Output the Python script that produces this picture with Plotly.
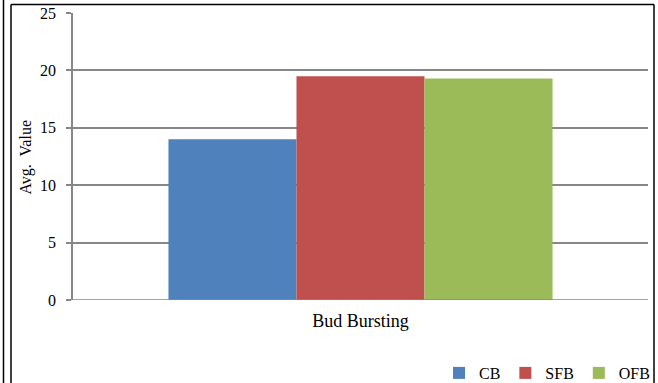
import plotly.graph_objects as go

category = ["Bud Bursting"]
series_names = ["CB", "SFB", "OFB"]
series_values = [[14.0], [19.5], [19.3]]
series_colors = ["#4F81BD", "#C0504D", "#9BBB59"]
y_ticks = [0, 5, 10, 15, 20, 25]
y_title = "Avg.  Value"

W, H = 658, 383
ML, MR, MT, MB = 73, 10, 13, 83
PW, PH = W - ML - MR, H - MT - MB


def px_x(p):
    return (p - ML) / PW


def px_y(p):
    return (H - MB - p) / PH


fig = go.Figure()
for name, vals, col in zip(series_names, series_values, series_colors):
    fig.add_trace(go.Bar(x=category, y=vals, name=name, marker=dict(color=col, line=dict(width=0))))

font = dict(family="Liberation Serif, Times New Roman, serif", size=16, color="#000000")
cat_font = dict(font, size=18)

# outer frame: double rule on the left, single box line on top/right
frame = dict(color="#000000", width=1.5)
shapes = [
    dict(type="line", xref="paper", yref="paper", x0=px_x(3.5), x1=px_x(3.5), y0=px_y(0), y1=px_y(H), line=frame),
    dict(type="line", xref="paper", yref="paper", x0=px_x(11), x1=px_x(11), y0=px_y(4.5), y1=px_y(H), line=frame),
    dict(type="line", xref="paper", yref="paper", x0=px_x(11), x1=px_x(654), y0=px_y(4.5), y1=px_y(4.5), line=frame),
    dict(type="line", xref="paper", yref="paper", x0=px_x(654), x1=px_x(654), y0=px_y(4.5), y1=px_y(H), line=frame),
    # baseline under the bars
    dict(type="line", xref="paper", yref="y", x0=0, x1=1, y0=0, y1=0,
         line=dict(color="#878787", width=1.5)),
]

fig.update_layout(
    width=W, height=H,
    margin=dict(l=ML, r=MR, t=MT, b=MB, autoexpand=False),
    paper_bgcolor="white", plot_bgcolor="white",
    font=font,
    barmode="group", bargap=0.332, bargroupgap=0,
    shapes=shapes,
    showlegend=True,
    legend=dict(orientation="h", xref="container", yref="container",
                xanchor="right", yanchor="middle", x=(W - 3) / W, y=(H - 373) / H,
                font=font, itemwidth=30, traceorder="normal", bgcolor="rgba(0,0,0,0)"),
    xaxis=dict(showgrid=False, showline=False, ticks="", tickfont=cat_font,
               ticklabelstandoff=8, title=None),
    yaxis=dict(range=[0, 25], tickvals=y_ticks, ticktext=[str(t) for t in y_ticks],
               showgrid=True, gridcolor="#878787", gridwidth=1.5,
               showline=True, linecolor="#878787", linewidth=1.5,
               ticks="outside", ticklen=5, tickcolor="#878787", tickwidth=1.5,
               tickfont=font, zeroline=False, ticklabelstandoff=7, title=None),
)

# rotated y-axis title
fig.add_annotation(text=y_title, textangle=-90, showarrow=False, font=font,
                   xref="paper", yref="paper", x=px_x(25), y=0.5,
                   xanchor="center", yanchor="middle")

fig.write_html("out.html")
